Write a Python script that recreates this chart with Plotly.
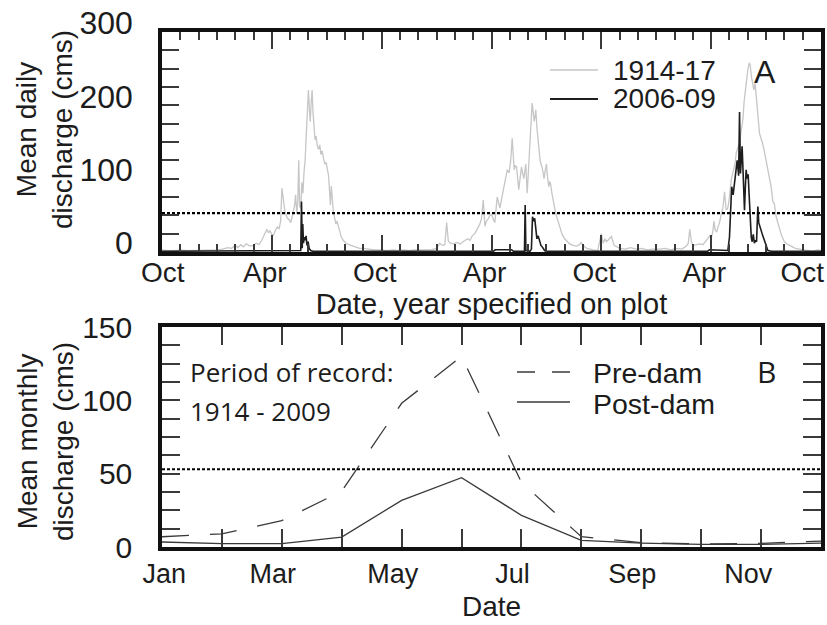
import plotly.graph_objects as go

# ---------------- Panel A: mean daily discharge, three water years (Oct-Sep) ----------------
# x is months elapsed since 1 October of the first water year
early_month = [0.0, 0.3, 0.7, 1.0, 1.4, 1.8, 2.2, 2.6, 3.0, 3.3, 3.6, 3.8, 4.0, 4.15, 4.3, 4.45, 4.6, 4.8, 5.0, 5.15,
               5.3, 5.45, 5.55, 5.65, 5.73, 5.82, 5.9, 6.0, 6.09, 6.2, 6.3, 6.4, 6.48, 6.55, 6.62, 6.7, 6.78, 6.86,
               6.95, 7.03, 7.1, 7.18, 7.25, 7.3, 7.36, 7.42, 7.47, 7.52, 7.58, 7.64, 7.7, 7.76, 7.82, 7.88, 7.94,
               8.0, 8.05, 8.1, 8.15, 8.2, 8.25, 8.3, 8.36, 8.42, 8.48, 8.55, 8.62, 8.68, 8.75, 8.82, 8.9, 8.97,
               9.04, 9.1, 9.16, 9.2, 9.25, 9.3, 9.36, 9.42, 9.5, 9.56, 9.62, 9.7, 9.8, 9.9, 10.05, 10.2, 10.4,
               10.6, 10.8, 11.0, 11.3, 11.6, 12.0,
               12.3, 12.6, 12.9, 13.2, 13.5, 13.8, 14.1, 14.4, 14.7, 15.0, 15.18, 15.3, 15.45, 15.55, 15.64,
               15.75, 15.91, 16.1, 16.3, 16.5, 16.7, 16.82, 16.95, 17.09, 17.27, 17.36, 17.45, 17.55, 17.64,
               17.72, 17.82, 17.92, 18.0, 18.08, 18.18, 18.31, 18.4, 18.46, 18.55, 18.64, 18.72, 18.8, 18.86,
               18.96, 19.05, 19.13, 19.2, 19.24, 19.3, 19.37, 19.43, 19.49, 19.56, 19.64, 19.7, 19.76, 19.82,
               19.87, 19.95, 20.02, 20.09, 20.15, 20.22, 20.28, 20.33, 20.38, 20.42, 20.49, 20.56, 20.64, 20.7,
               20.76, 20.82, 20.87, 20.94, 21.0, 21.06, 21.13, 21.18, 21.22, 21.3, 21.36, 21.45, 21.55, 21.65,
               21.73, 21.86, 22.0, 22.15, 22.27, 22.45, 22.64, 22.8, 22.9, 23.0, 23.2, 23.55, 23.8,
               24.0, 24.1, 24.2, 24.28, 24.4, 24.55, 24.7, 25.0, 25.3, 25.6, 25.9, 26.2, 26.5, 26.8, 27.2, 27.5,
               27.8, 28.1, 28.4, 28.65, 28.75, 28.83, 28.92, 29.0, 29.2, 29.4, 29.55, 29.7, 29.8, 29.91, 30.0,
               30.09, 30.15, 30.22, 30.3, 30.37, 30.46, 30.55, 30.64, 30.73, 30.82, 30.91, 31.0, 31.1, 31.2,
               31.3, 31.37, 31.46, 31.55, 31.64, 31.73, 31.8, 31.87, 31.94, 32.0, 32.08, 32.13, 32.2, 32.27,
               32.33, 32.4, 32.46, 32.52, 32.6, 32.64, 32.72, 32.8, 32.9, 33.0, 33.1, 33.19, 33.28, 33.37,
               33.45, 33.55, 33.64, 33.73, 33.85, 34.0, 34.2, 34.37, 34.6, 34.82, 35.2, 35.55, 35.8, 36.0]
early_flow = [3, 2, 2, 3, 2, 2, 3, 2, 3, 4, 6, 5, 9, 6, 10, 7, 11, 8, 9, 12,
              10, 16, 22, 27, 31, 26, 29, 24, 23, 30, 34, 32, 42, 87, 72, 58, 50, 46,
              44, 40, 47, 58, 65, 78, 52, 70, 125, 62, 60, 95, 80, 110, 125, 160, 200,
              221, 195, 178, 205, 221, 190, 170, 153, 158, 145, 140, 146, 133, 138, 128, 120, 122,
              112, 104, 80, 64, 90, 70, 54, 48, 38, 42, 36, 27, 20, 16, 12, 10, 8,
              6, 5, 5, 4, 3, 3,
              2, 3, 2, 3, 2, 3, 3, 4, 3, 5, 12, 9, 10, 40, 15,
              12, 11, 13, 11, 15, 18, 16, 22, 25, 33, 38, 45, 71, 35,
              42, 45, 50, 51, 46, 40, 75, 63, 60, 72, 85, 95, 103, 112,
              108, 125, 155, 130, 112, 118, 116, 100, 85, 100, 116, 108, 100, 110,
              120, 80, 110, 139, 170, 203, 190, 178, 185, 194, 167, 145, 128, 120,
              116, 108, 100, 112, 120, 102, 89, 96, 94, 80, 71, 60, 49, 40,
              33, 24, 18, 14, 11, 9, 8, 10, 13, 9, 5, 3, 2,
              25, 12, 18, 14, 17, 21, 9, 5, 4, 6, 4, 5, 3, 4, 4, 5,
              3, 5, 4, 8, 12, 31, 14, 9, 10, 11, 10, 14, 18, 22, 18,
              28, 42, 30, 27, 34, 40, 52, 60, 82, 57, 60, 75, 99, 112,
              120, 135, 142, 149, 165, 180, 205, 221, 240, 248, 258, 255, 239, 225,
              221, 230, 212, 194, 178, 162, 155, 149, 138, 126, 114, 103, 88, 69,
              66, 48, 40, 32, 22, 14, 10, 8, 5, 4, 2, 1, 3, 2]

late_month = [0.0, 3.0, 6.0, 7.5, 7.58, 7.62, 7.66, 7.69, 7.73, 7.77, 7.82, 7.87, 7.92, 7.98, 8.04, 8.12, 8.25, 12.0,
              13.0, 16.0, 18.1, 18.2, 19.1, 19.2, 19.8, 19.84, 19.88, 20.1, 20.18, 20.24, 20.3, 20.36, 20.42,
              20.48, 20.55, 20.62, 20.7, 20.8, 20.9, 21.0, 24.0,
              27.0, 29.8, 29.9, 30.85, 30.91, 31.0, 31.06, 31.12, 31.2, 31.28, 31.35, 31.42, 31.5, 31.55, 31.6,
              31.65, 31.69, 31.73, 31.77, 31.82, 31.87, 31.91, 31.96, 32.02, 32.07, 32.13, 32.19, 32.24, 32.3,
              32.36, 32.42, 32.48, 32.55, 32.6, 32.66, 32.74, 32.82, 32.92, 33.0, 33.1, 33.3, 36.0]
late_flow = [1, 1, 1, 1, 2, 69, 5, 38, 12, 20, 16, 22, 9, 14, 5, 2, 1, 1,
             1, 1, 1, 3, 3, 1, 1, 64, 2, 1, 4, 48, 42, 46, 30,
             18, 22, 14, 9, 6, 2, 1, 1,
             1, 1, 3, 3, 2, 20, 55, 89, 78, 95, 110, 125, 104, 191, 107,
             130, 144, 118, 95, 57, 90, 112, 100, 106, 80, 39, 20, 14, 24,
             12, 16, 14, 62, 40, 34, 28, 22, 15, 8, 2, 1, 1]

NB = "\u00a0"  # non-breaking space, nudges the end labels inward
daily_ticks = [0, 6, 12, 18, 24, 30, 36]
daily_labels = [NB * 2 + "Oct", "Apr", "Oct", "Apr", "Oct", "Apr", "Oct" + NB * 3]

# ---------------- Panel B: mean monthly discharge ----------------
months = [1, 2, 3, 4, 5, 6, 7, 8, 9, 10, 11, 12]
month_labels = [NB * 3 + "Jan", "", "Mar", "", "May", "", "Jul", "", "Sep", "", "Nov" + NB, ""]
pre_dam = [7, 9, 18, 38, 98, 130, 44, 7, 3, 2, 2.5, 4]
post_dam = [3.4, 2.3, 2.3, 6.8, 31.8, 47.3, 21.6, 4.5, 2.7, 1.8, 1.8, 2.7]

threshold = 53  # reference discharge shown as dotted line in both panels

# ---------------- figure geometry ----------------
W, H = 827, 625
ML, MR, MT, MB = 162, 6, 32, 78
PW, PH = W - ML - MR, H - MT - MB


def px(x):
    return (x - ML) / PW


def py(y):
    return (H - MB - y) / PH


TXT = "#1c1c1c"
ARIAL = "Liberation Sans, Arial, sans-serif"
MYRIAD = "Open Sans, Noto Sans, sans-serif"

fig = go.Figure()

fig.add_trace(go.Scatter(x=early_month, y=early_flow, mode="lines", name="1914-17",
                         line=dict(color="#c6c6c6", width=1.3), xaxis="x", yaxis="y", showlegend=False))
fig.add_trace(go.Scatter(x=late_month, y=late_flow, mode="lines", name="2006-09",
                         line=dict(color="#1e1e1e", width=1.6), xaxis="x", yaxis="y", showlegend=False))
fig.add_trace(go.Scatter(x=[0, 36], y=[threshold, threshold], mode="lines",
                         line=dict(color="#000000", width=2.2, dash="3px,2px"), xaxis="x", yaxis="y",
                         showlegend=False, hoverinfo="skip"))

fig.add_trace(go.Scatter(x=months, y=pre_dam, mode="lines", name="Pre-dam",
                         line=dict(color="#3a3a3a", width=1.3, dash="27px,21px"), xaxis="x2", yaxis="y2",
                         showlegend=False))
fig.add_trace(go.Scatter(x=months, y=post_dam, mode="lines", name="Post-dam",
                         line=dict(color="#3a3a3a", width=1.3), xaxis="x2", yaxis="y2", showlegend=False))
fig.add_trace(go.Scatter(x=[1, 12], y=[threshold, threshold], mode="lines",
                         line=dict(color="#000000", width=2.2, dash="3px,2px"), xaxis="x2", yaxis="y2",
                         showlegend=False, hoverinfo="skip"))

frame = dict(showline=True, linecolor="#111111", linewidth=3.5, mirror="allticks",
             ticks="inside", tickcolor="#3a3a3a", tickwidth=1.5, showgrid=False, zeroline=False)

fig.update_layout(
    width=W, height=H,
    margin=dict(l=ML, r=MR, t=MT, b=MB, autoexpand=False),
    paper_bgcolor="white", plot_bgcolor="white",
    font=dict(family=ARIAL, color=TXT),
    xaxis=dict(domain=[0, 1], anchor="y", range=[0, 36], tickmode="array",
               tickvals=daily_ticks, ticktext=daily_labels, ticklen=17,
               minor=dict(dtick=1, tick0=0, ticklen=8, ticks="inside", tickcolor="#3a3a3a", tickwidth=1.5),
               tickfont=dict(size=28, family=ARIAL, color=TXT), ticklabelstandoff=-7, ticklabelshift=-7,
               ticklabeloverflow="allow",
               title=dict(text="Date, year specified on plot", font=dict(size=29, family=ARIAL, color=TXT),
                          standoff=1),
               **frame),
    yaxis=dict(domain=[py(252), 1], anchor="x", range=[0, 300], tickmode="linear", tick0=0, dtick=100,
               ticklen=17, minor=dict(dtick=25, tick0=0, ticklen=17, ticks="inside", tickcolor="#3a3a3a",
                                      tickwidth=1.5),
               tickfont=dict(size=32, family=ARIAL, color=TXT), ticklabelstandoff=19, ticklabelshift=-9,
               ticklabeloverflow="allow",
               **frame),
    xaxis2=dict(domain=[0, 1], anchor="y2", range=[1, 12], tickmode="array", tickvals=months,
                ticktext=month_labels, ticklen=18,
                tickfont=dict(size=27, family=ARIAL, color=TXT), ticklabelstandoff=0, ticklabelshift=-9,
                ticklabeloverflow="allow",
                title=dict(text="Date", font=dict(size=28, family=ARIAL, color=TXT), standoff=9),
                **frame),
    yaxis2=dict(domain=[0, py(327)], anchor="x2", range=[0, 150], tickmode="linear", tick0=0, dtick=50,
                ticklen=18, minor=dict(dtick=12.5, tick0=0, ticklen=18, ticks="inside", tickcolor="#3a3a3a",
                                       tickwidth=1.5),
                tickfont=dict(size=30, family=ARIAL, color=TXT), ticklabelstandoff=20,
                ticklabeloverflow="allow",
                **frame),
)

ann = []
# y-axis titles
ann.append(dict(text="Mean daily<br>discharge (cms)", x=px(44), y=py(130), xref="paper", yref="paper",
                textangle=-90, showarrow=False, xanchor="center", yanchor="middle",
                font=dict(size=28, family=ARIAL, color=TXT)))
ann.append(dict(text="Mean monthly<br>discharge (cms)", x=px(45), y=py(442), xref="paper", yref="paper",
                textangle=-90, showarrow=False, xanchor="center", yanchor="middle",
                font=dict(size=28, family=ARIAL, color=TXT)))
# panel letters
ann.append(dict(text="A", x=px(765), y=py(72), xref="paper", yref="paper", showarrow=False,
                xanchor="center", yanchor="middle", font=dict(size=32, family=ARIAL, color=TXT)))
ann.append(dict(text="B", x=px(766), y=py(371), xref="paper", yref="paper", showarrow=False,
                xanchor="center", yanchor="middle", font=dict(size=30, family=MYRIAD, color=TXT)))
# legend labels, panel A
ann.append(dict(text="1914-17", x=px(611), y=py(70), xref="paper", yref="paper", showarrow=False,
                xanchor="left", yanchor="middle", font=dict(size=28, family=ARIAL, color=TXT)))
ann.append(dict(text="2006-09", x=px(611), y=py(98), xref="paper", yref="paper", showarrow=False,
                xanchor="left", yanchor="middle", font=dict(size=28, family=ARIAL, color=TXT)))
# legend labels, panel B
ann.append(dict(text="Pre-dam", x=px(591), y=py(373), xref="paper", yref="paper", showarrow=False,
                xanchor="left", yanchor="middle", font=dict(size=28.5, family=ARIAL, color=TXT)))
ann.append(dict(text="Post-dam", x=px(591), y=py(404), xref="paper", yref="paper", showarrow=False,
                xanchor="left", yanchor="middle", font=dict(size=28.5, family=ARIAL, color=TXT)))
# record period note
ann.append(dict(text="Period of record:", x=px(188), y=py(372), xref="paper", yref="paper", showarrow=False,
                xanchor="left", yanchor="middle", font=dict(size=26, family=MYRIAD, color=TXT)))
ann.append(dict(text="1914 - 2009", x=px(188), y=py(411), xref="paper", yref="paper", showarrow=False,
                xanchor="left", yanchor="middle", font=dict(size=26, family=MYRIAD, color=TXT)))
fig.update_layout(annotations=ann)

# legend line samples
shapes = [
    dict(type="line", xref="paper", yref="paper", x0=px(550), x1=px(598), y0=py(70), y1=py(70),
         line=dict(color="#c6c6c6", width=1.6)),
    dict(type="line", xref="paper", yref="paper", x0=px(550), x1=px(598), y0=py(99), y1=py(99),
         line=dict(color="#1e1e1e", width=1.8)),
    dict(type="line", xref="paper", yref="paper", x0=px(517), x1=px(570), y0=py(372), y1=py(372),
         line=dict(color="#3a3a3a", width=1.4, dash="18px,17px")),
    dict(type="line", xref="paper", yref="paper", x0=px(517), x1=px(570), y0=py(402), y1=py(402),
         line=dict(color="#3a3a3a", width=1.4)),
]
fig.update_layout(shapes=shapes)

fig.write_html("out.html")
